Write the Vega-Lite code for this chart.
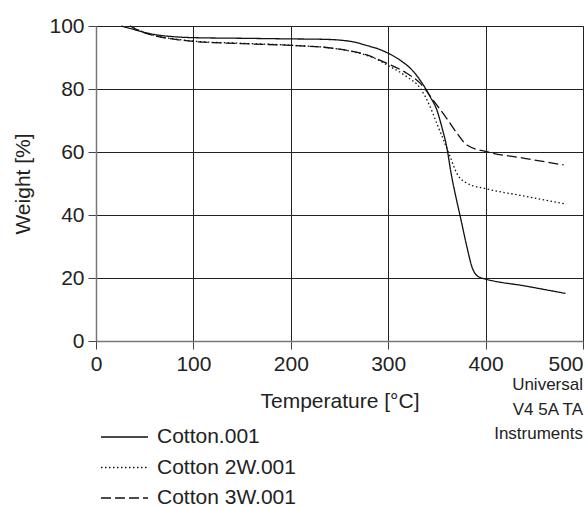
{
  "$schema": "https://vega.github.io/schema/vega-lite/v6.json",
  "width": 487,
  "height": 315,
  "autosize": "none",
  "padding": {"left": 96, "top": 26, "right": 2, "bottom": 166},
  "config": {
    "font": "Arial",
    "view": {"stroke": "#666", "strokeWidth": 1},
    "axis": {
      "labelFont": "Arial",
      "labelFontSize": 21,
      "labelColor": "#222",
      "titleFont": "Arial",
      "titleFontSize": 21,
      "titleFontWeight": "normal",
      "titleColor": "#222",
      "gridColor": "#222",
      "gridWidth": 1,
      "gridOpacity": 1,
      "domainColor": "#777",
      "domainWidth": 1.5,
      "tickColor": "#444",
      "tickSize": 8,
      "tickWidth": 1,
      "labelPadding": 4
    },
    "axisY": {"titlePadding": 15},
    "axisX": {"titlePadding": 16}
  },
  "data": {
    "values": [
      {"sample": "Cotton.001", "T": 26, "W": 100},
      {"sample": "Cotton.001", "T": 40, "W": 98.8},
      {"sample": "Cotton.001", "T": 60, "W": 97.3},
      {"sample": "Cotton.001", "T": 80, "W": 96.6},
      {"sample": "Cotton.001", "T": 100, "W": 96.3},
      {"sample": "Cotton.001", "T": 150, "W": 96.1},
      {"sample": "Cotton.001", "T": 200, "W": 95.9},
      {"sample": "Cotton.001", "T": 230, "W": 95.8},
      {"sample": "Cotton.001", "T": 251, "W": 95.5},
      {"sample": "Cotton.001", "T": 265, "W": 94.9},
      {"sample": "Cotton.001", "T": 278, "W": 93.8},
      {"sample": "Cotton.001", "T": 290, "W": 92.7},
      {"sample": "Cotton.001", "T": 299, "W": 91.5},
      {"sample": "Cotton.001", "T": 312, "W": 89.2},
      {"sample": "Cotton.001", "T": 326, "W": 85.5},
      {"sample": "Cotton.001", "T": 336, "W": 81.3},
      {"sample": "Cotton.001", "T": 343, "W": 77.6},
      {"sample": "Cotton.001", "T": 350, "W": 73.3},
      {"sample": "Cotton.001", "T": 355, "W": 68},
      {"sample": "Cotton.001", "T": 360, "W": 61.7},
      {"sample": "Cotton.001", "T": 365, "W": 52.5},
      {"sample": "Cotton.001", "T": 370, "W": 45},
      {"sample": "Cotton.001", "T": 374, "W": 39.5},
      {"sample": "Cotton.001", "T": 380.8, "W": 29.9},
      {"sample": "Cotton.001", "T": 385.9, "W": 23.6},
      {"sample": "Cotton.001", "T": 392.7, "W": 20.4},
      {"sample": "Cotton.001", "T": 401, "W": 19.6},
      {"sample": "Cotton.001", "T": 440, "W": 17.5},
      {"sample": "Cotton.001", "T": 482, "W": 15.1},

      {"sample": "Cotton 2W.001", "T": 35, "W": 100},
      {"sample": "Cotton 2W.001", "T": 45, "W": 98.5},
      {"sample": "Cotton 2W.001", "T": 60, "W": 97},
      {"sample": "Cotton 2W.001", "T": 80, "W": 95.9},
      {"sample": "Cotton 2W.001", "T": 100, "W": 95.2},
      {"sample": "Cotton 2W.001", "T": 150, "W": 94.5},
      {"sample": "Cotton 2W.001", "T": 200, "W": 93.9},
      {"sample": "Cotton 2W.001", "T": 244, "W": 92.9},
      {"sample": "Cotton 2W.001", "T": 271, "W": 91.3},
      {"sample": "Cotton 2W.001", "T": 285, "W": 89.9},
      {"sample": "Cotton 2W.001", "T": 299, "W": 87.6},
      {"sample": "Cotton 2W.001", "T": 319, "W": 83.9},
      {"sample": "Cotton 2W.001", "T": 333, "W": 80.2},
      {"sample": "Cotton 2W.001", "T": 343, "W": 74.4},
      {"sample": "Cotton 2W.001", "T": 350, "W": 69},
      {"sample": "Cotton 2W.001", "T": 356.8, "W": 63.8},
      {"sample": "Cotton 2W.001", "T": 363.6, "W": 58.5},
      {"sample": "Cotton 2W.001", "T": 370.5, "W": 53.2},
      {"sample": "Cotton 2W.001", "T": 380.8, "W": 50.1},
      {"sample": "Cotton 2W.001", "T": 401, "W": 48.3},
      {"sample": "Cotton 2W.001", "T": 440, "W": 46},
      {"sample": "Cotton 2W.001", "T": 482, "W": 43.5},

      {"sample": "Cotton 3W.001", "T": 35, "W": 100},
      {"sample": "Cotton 3W.001", "T": 45, "W": 98.4},
      {"sample": "Cotton 3W.001", "T": 60, "W": 96.9},
      {"sample": "Cotton 3W.001", "T": 80, "W": 95.8},
      {"sample": "Cotton 3W.001", "T": 100, "W": 95.1},
      {"sample": "Cotton 3W.001", "T": 150, "W": 94.4},
      {"sample": "Cotton 3W.001", "T": 210, "W": 93.7},
      {"sample": "Cotton 3W.001", "T": 244, "W": 92.9},
      {"sample": "Cotton 3W.001", "T": 278, "W": 90.8},
      {"sample": "Cotton 3W.001", "T": 299, "W": 88.1},
      {"sample": "Cotton 3W.001", "T": 319, "W": 85},
      {"sample": "Cotton 3W.001", "T": 333, "W": 81.8},
      {"sample": "Cotton 3W.001", "T": 346, "W": 76.5},
      {"sample": "Cotton 3W.001", "T": 360, "W": 70.7},
      {"sample": "Cotton 3W.001", "T": 370.5, "W": 66},
      {"sample": "Cotton 3W.001", "T": 380.8, "W": 62.2},
      {"sample": "Cotton 3W.001", "T": 401, "W": 60.1},
      {"sample": "Cotton 3W.001", "T": 440, "W": 58},
      {"sample": "Cotton 3W.001", "T": 480, "W": 55.9}
    ]
  },
  "layer": [
    {
      "mark": {"type": "line", "interpolate": "monotone", "color": "#111", "strokeWidth": 1.3},
      "encoding": {
        "x": {
          "field": "T",
          "type": "quantitative",
          "scale": {"domain": [0, 500], "nice": false},
          "axis": {
            "title": "Temperature [°C]",
            "values": [0, 100, 200, 300, 400, 500],
            "labelAlign": {"condition": {"test": "datum.value === 500", "value": "right"}, "value": "center"}
          }
        },
        "y": {
          "field": "W",
          "type": "quantitative",
          "scale": {"domain": [0, 100], "nice": false},
          "axis": {"title": "Weight [%]", "values": [0, 20, 40, 60, 80, 100]}
        },
        "strokeDash": {
          "field": "sample",
          "type": "nominal",
          "scale": {
            "domain": ["Cotton.001", "Cotton 2W.001", "Cotton 3W.001"],
            "range": [[1, 0], [1.5, 2.5], [10, 4]]
          },
          "legend": {
            "orient": "none",
            "legendX": 0,
            "legendY": 400,
            "title": null,
            "padding": 0,
            "symbolType": "M-2.35,0H2.35",
            "symbolSize": 400,
            "symbolStrokeWidth": 1.3,
            "symbolStrokeColor": "#111",
            "symbolFillColor": "transparent",
            "symbolOffset": 17.5,
            "labelOffset": 21.5,
            "labelFont": "Arial",
            "labelFontSize": 21,
            "labelColor": "#222",
            "labelLimit": 300,
            "rowPadding": 9.5
          }
        }
      }
    },
    {
      "data": {"values": [{}]},
      "mark": {"type": "text", "align": "right", "baseline": "middle", "font": "Arial", "fontSize": 17, "lineHeight": 24.5, "color": "#222"},
      "encoding": {
        "x": {"datum": 500, "type": "quantitative"},
        "y": {"datum": -14, "type": "quantitative"},
        "text": {"value": ["Universal", "V4 5A TA", "Instruments"]}
      }
    }
  ]
}
